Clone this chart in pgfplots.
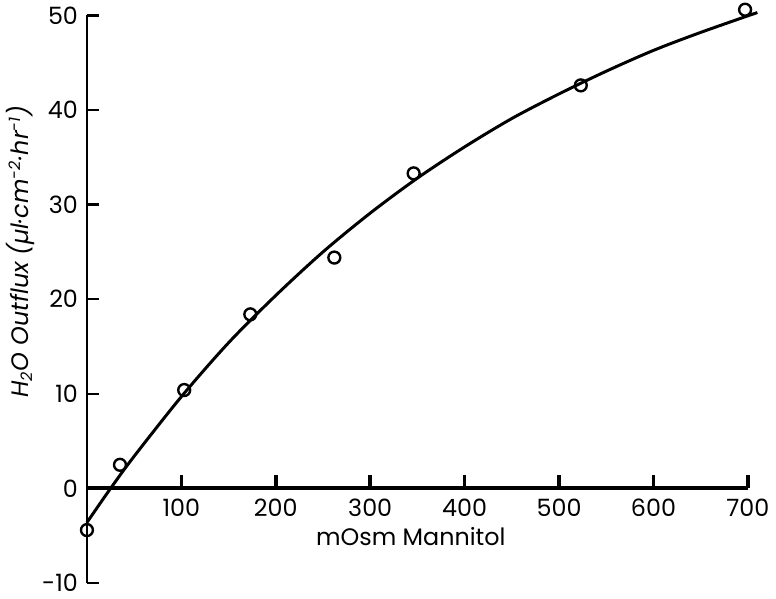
\documentclass[border=0pt]{standalone}
\usepackage{fontspec}
\setmainfont{Poppins}
\usepackage{pgfplots}
\pgfplotsset{compat=1.18}
\begin{document}
\begin{tikzpicture}
\begin{axis}[
  scale only axis,
  width=333pt, height=286pt,
  xmin=0, xmax=700, ymin=-10, ymax=50,
  axis x line=bottom, axis y line=left,
  axis line style={line width=1.2pt, -},
  x axis line style={draw=none},
  xtick={100,200,...,700},
  ytick={-10,0,...,50},
  tick align=inside,
  major tick length=6pt,
  ytick style={line width=1.2pt, black},
  xtick style={draw=none},
  /pgf/number format/assume math mode=true,
  tick label style={font=\fontsize{12}{14}\selectfont},
  xticklabel style={anchor=north, yshift=45.67pt},
  yticklabel style={anchor=east, xshift=-1pt},
  xlabel={mOsm Mannitol},
  xlabel style={at={(axis description cs:0.49,0.082)}, anchor=center, font=\fontsize{12}{14}\selectfont},
  ylabel={\itshape H\textsubscript{2}O Outflux (µl·cm\textsuperscript{-2}·hr\textsuperscript{-1})},
  ylabel style={at={(axis description cs:-0.1,0.584)}, anchor=center, rotate=0, font=\fontsize{12}{14}\selectfont},
  clip=false,
]
\addplot[black, line width=1.5pt, smooth, no marks] coordinates {
 (0,-3.6) (25,0.0) (50,3.4) (100,9.7) (150,15.4) (200,20.4) (250,25.0)
 (300,29.1) (350,32.8) (400,36.1) (450,39.1) (500,41.7) (550,44.1)
 (600,46.3) (650,48.2) (710,50.3)
};
\addplot[only marks, mark=o, mark size=3pt, mark options={line width=1.2pt, fill=white, draw=black}] coordinates {
 (0,-4.4) (35,2.5) (103,10.4) (173,18.4) (262,24.4) (346,33.3) (523,42.6) (697,50.6)
};
\addplot[draw=black, line width=2pt, no marks] coordinates {(0,0) (700,0)};
\addplot[draw=black, line width=1.8pt, ycomb, no marks] coordinates {
 (100,1.4) (200,1.4) (300,1.4) (400,1.4) (500,1.4) (600,1.4) (700,1.4)
};
\end{axis}
\end{tikzpicture}
\end{document}
